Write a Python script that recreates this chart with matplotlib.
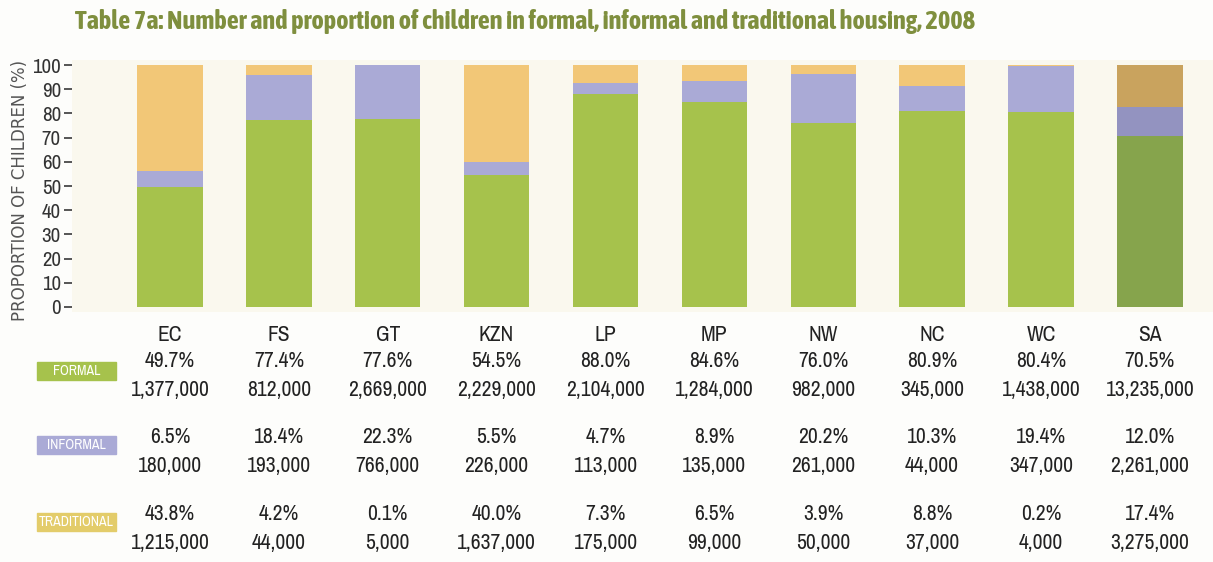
import numpy as np
import matplotlib.pyplot as plt
from matplotlib.patches import Rectangle
from matplotlib import font_manager as fm
import matplotlib.transforms as mtransforms

names = {f.name for f in fm.fontManager.ttflist}


def pick(options):
    for name in options:
        if name in names:
            return name, True
    return 'DejaVu Sans', False


body_font, body_ok = pick(['Archivo Narrow', 'Asap Condensed', 'Barlow Semi Condensed'])
title_font, title_ok = pick(['Asap Condensed', 'Barlow Semi Condensed', 'Archivo Narrow'])
plt.rcParams['font.family'] = [body_font, 'DejaVu Sans']
body_size = 15.5 if body_ok else 12
title_size = 19 if title_ok else 13

provinces = ['EC', 'FS', 'GT', 'KZN', 'LP', 'MP', 'NW', 'NC', 'WC', 'SA']
formal_pct = [49.7, 77.4, 77.6, 54.5, 88.0, 84.6, 76.0, 80.9, 80.4, 70.5]
informal_pct = [6.5, 18.4, 22.3, 5.5, 4.7, 8.9, 20.2, 10.3, 19.4, 12.0]
traditional_pct = [43.8, 4.2, 0.1, 40.0, 7.3, 6.5, 3.9, 8.8, 0.2, 17.4]
formal_n = ['1,377,000', '812,000', '2,669,000', '2,229,000', '2,104,000',
            '1,284,000', '982,000', '345,000', '1,438,000', '13,235,000']
informal_n = ['180,000', '193,000', '766,000', '226,000', '113,000',
              '135,000', '261,000', '44,000', '347,000', '2,261,000']
traditional_n = ['1,215,000', '44,000', '5,000', '1,637,000', '175,000',
                 '99,000', '50,000', '37,000', '4,000', '3,275,000']

green, lilac, sand = '#a6c24c', '#aaaad6', '#f2c777'
green_sa, lilac_sa, sand_sa = '#86a44c', '#9393c0', '#c9a35e'

W, H = 1213, 562
fig = plt.figure(figsize=(W / 100, H / 100), dpi=100, facecolor='#fdfdfb')

ax = fig.add_axes([72 / W, 1 - 312 / H, 1141 / W, 252 / H])
ax.set_facecolor('#faf8ee')

x = np.arange(len(provinces))
formal = np.array(formal_pct)
informal = np.array(informal_pct)
trad = np.array(traditional_pct)
c_f = [green] * 9 + [green_sa]
c_i = [lilac] * 9 + [lilac_sa]
c_t = [sand] * 9 + [sand_sa]
ax.bar(x, formal, 0.6, color=c_f)
ax.bar(x, informal, 0.6, bottom=formal, color=c_i)
ax.bar(x, trad, 0.6, bottom=formal + informal, color=c_t)

ax.set_xlim(-0.9, 9.58)
ax.set_ylim(-2.07, 102.1)
ax.set_yticks(range(0, 101, 10))
ax.set_xticks([])
for s in ax.spines.values():
    s.set_visible(False)
ax.tick_params(axis='y', direction='out', length=6, width=1.4, color='#555555',
               labelsize=body_size - 0.5, labelcolor='#333333', pad=2)
fig.text(20 / W, 1 - 190 / H, 'PROPORTION OF CHILDREN (%)', rotation=90,
         ha='center', va='center', fontsize=12, color='#555555', family='DejaVu Sans')

fig.text(75 / W, 1 - 22 / H,
         'Table 7a: Number and proportion of children in formal, informal and traditional housing, 2008',
         ha='left', va='center', fontsize=title_size, fontweight='bold', color='#7f8f3e',
         family=[title_font, 'DejaVu Sans'])

# table under the chart
trans = mtransforms.blended_transform_factory(ax.transData, fig.transFigure)
rows = [
    (335, provinces),
    (361, [f'{v:.1f}%' for v in formal_pct]),
    (390, formal_n),
    (437, [f'{v:.1f}%' for v in informal_pct]),
    (466, informal_n),
    (514, [f'{v:.1f}%' for v in traditional_pct]),
    (543, traditional_n),
]
for ypx, labels in rows:
    for xi, lab in zip(x, labels):
        ax.text(xi, 1 - ypx / H, lab, transform=trans, ha='center', va='center',
                fontsize=body_size, color='#222222', clip_on=False)

for ypx, name, col in [(371, 'FORMAL', green), (445, 'INFORMAL', lilac),
                       (522, 'TRADITIONAL', '#e3cc6a')]:
    fig.patches.append(Rectangle((37 / W, 1 - (ypx + 9) / H), 79 / W, 18 / H,
                                 transform=fig.transFigure, color=col))
    fig.text(76.5 / W, 1 - ypx / H, name, ha='center', va='center',
             fontsize=10 if body_ok else 7, color='white')

fig.savefig('out.png', dpi=100, facecolor=fig.get_facecolor())
